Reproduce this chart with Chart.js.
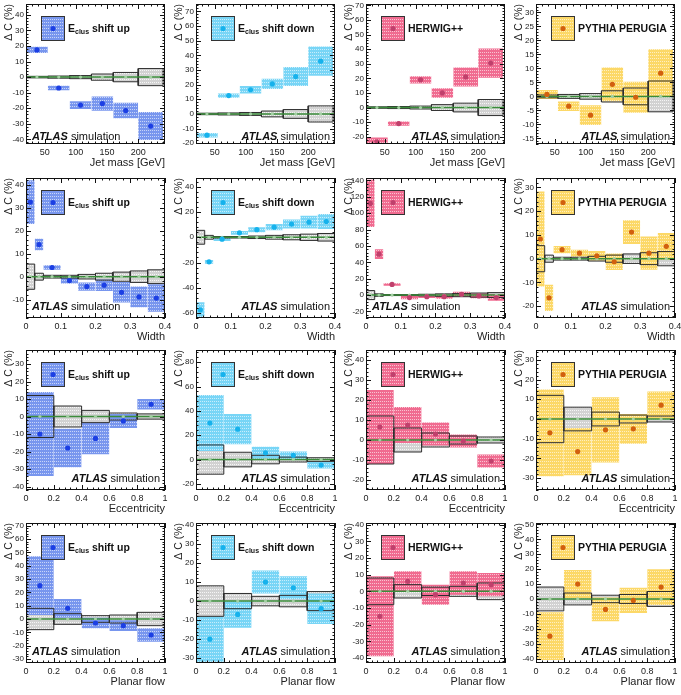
<!DOCTYPE html>
<html><head><meta charset="utf-8">
<script src="https://cdn.jsdelivr.net/npm/chart.js@4.4.1/dist/chart.umd.min.js"></script>
<style>
html,body{margin:0;padding:0;background:#fff;}
#wrap{position:relative;width:681px;height:695px;overflow:hidden;font-family:"Liberation Sans",Arial,Helvetica,sans-serif;}
.panel{position:absolute;width:178px;height:173px;}
.panel canvas{position:absolute;left:0;top:0;}
.leg{position:absolute;font-weight:bold;font-size:10.5px;color:#111;white-space:nowrap;line-height:12px;}
.leg sub{font-size:7px;vertical-align:-2px;line-height:0;}
.atlas{position:absolute;font-size:11px;color:#111;white-space:nowrap;line-height:12px;}
.atlas b{font-style:italic;}
</style></head><body><div id="wrap"></div>
<script>
// ---------- bins ----------
const massEdges  = [20, 55, 90, 125, 160, 200, 240];
const widthEdges = [0, 0.025, 0.05, 0.1, 0.15, 0.2, 0.25, 0.3, 0.35, 0.4];
const eccEdges   = [0, 0.2, 0.4, 0.6, 0.8, 1];
const pfEdges    = [0, 0.2, 0.4, 0.6, 0.8, 1];

// ---------- nominal MC stat uncertainty (grey boxes) ----------
const massStat  = [0.5, 0.7, 1, 2, 3, 5.5];
const widthStat = [5.5, 1.5, 0.6, 0.6, 1, 1.5, 2, 2.5, 3];
const eccStat   = [12, 6, 3.5, 2, 1.5];
const pfStat    = [8, 4, 2.5, 3, 5];

// ---------- x axes ----------
const massXTicks  = [50, 100, 150, 200];
const widthXTicks = [0, 0.1, 0.2, 0.3, 0.4];
const unitXTicks  = [0, 0.2, 0.4, 0.6, 0.8, 1];
const massXRange  = [20, 243];
const widthXRange = [0, 0.4];
const unitXRange  = [0, 1];

// ---------- Jet mass ----------
const massUpVal = [17.5, -7, -18, -17, -21.5, -31.5];
const massUpErr = [2, 1.5, 2.5, 4.6, 5, 9];
const massDownVal = [-14.5, 12.5, 16.5, 20.5, 25.5, 36];
const massDownErr = [1.5, 1.5, 2.5, 3.5, 6.5, 10];
const massHerwigVal = [-23.5, -11, 19, 10, 21, 30.5];
const massHerwigErr = [3, 1.5, 2.5, 3.3, 6.5, 10];
const massPythiaVal = [0.7, -3.5, -6.7, 4.3, -0.3, 8.3];
const massPythiaErr = [1.6, 1.7, 3.5, 6, 5.5, 8.5];

// ---------- Width ----------
const widthUpVal = [32.5, 14, 4, -1.7, -4.3, -3.7, -6.8, -8.8, -9.3];
const widthUpErr = [9.5, 2.5, 1, 1.3, 1.8, 2.5, 4.5, 4.5, 6];
const widthDownVal = [-57.5, -19.5, -1.5, 3.5, 6, 8, 10.5, 12, 12.5];
const widthDownErr = [6, 1.5, 1.5, 1.5, 2, 2.5, 3.5, 5, 6];
const widthHerwigVal = [112, 50, 13, -3, -2, -2, 1, -1, -3];
const widthHerwigErr = [29, 6, 1.5, 2, 1.5, 2.5, 3, 3, 4];
const widthPythiaVal = [8.3, -16.5, 3.8, 2.3, 1.2, -1.3, 11.2, 2.3, 5.2];
const widthPythiaErr = [20, 5.5, 1.5, 1.5, 2, 3.5, 5, 7, 5.6];

// ---------- Eccentricity ----------
const eccUpVal = [-10, -18, -12.5, -2.5, 7];
const eccUpErr = [24, 11, 9, 4, 3];
const eccDownVal = [30, 25, 5.5, 3.5, -4.5];
const eccDownErr = [23, 12.5, 5, 3.2, 2.8];
const eccHerwigVal = [6.5, 7.5, 3, -0.5, -10.5];
const eccHerwigErr = [18.5, 9, 5.8, 3.3, 3.3];
const eccPythiaVal = [-7, -16.5, -5.5, -5, 7];
const eccPythiaErr = [22, 12, 16.5, 7.6, 7];

// ---------- Planar flow ----------
const pfUpVal = [25, 8, -3, -5, -12];
const pfUpErr = [22, 7, 4, 4, 5];
const pfDownVal = [-20, -7, 10, 7, -4];
const pfDownErr = [12, 7, 6, 6, 8];
const pfHerwigVal = [-15, 6, -2, 5, 4];
const pfHerwigErr = [24, 6, 6, 7, 7];
const pfPythiaVal = [-25, 10, -7, -1, 8];
const pfPythiaErr = [16, 9.5, 8, 8.5, 12];

// ---------- y axes (tick labels and ranges) ----------
const yTicks = [
  [-40,-30,-20,-10,0,10,20,30,40], [-20,-10,0,10,20,30,40,50,60,70], [-20,-10,0,10,20,30,40,50,60,70], [-15,-10,-5,0,5,10,15,20,25,30],
  [-10,0,10,20,30,40], [-60,-40,-20,0,20,40], [-20,0,20,40,60,80,100,120,140], [-20,-10,0,10,20,30],
  [-40,-30,-20,-10,0,10,20,30], [-20,0,20,40,60,80], [-20,-10,0,10,20,30,40], [-30,-20,-10,0,10,20,30],
  [-30,-20,-10,0,10,20,30,40,50,60,70], [-30,-20,-10,0,10,20,30,40], [-40,-30,-20,-10,0,10,20,30,40], [-40,-30,-20,-10,0,10,20,30,40,50]
];
const yRanges = [
  [-43,47], [-20.5,75], [-25,71], [-17,33],
  [-18,43], [-64,47], [-28,143], [-25,34],
  [-42,38], [-25,90], [-25,45], [-36,35],
  [-33,72], [-32.5,41], [-43,41], [-43,51]
];
const xTitles = ['Jet mass [GeV]', 'Width', 'Eccentricity', 'Planar flow'];
const yTitle = 'Δ C (%)';
const legendLabels = {up:'E<sub>clus</sub> shift up', down:'E<sub>clus</sub> shift down', herwig:'HERWIG++', pythia:'PYTHIA PERUGIA'};
const atlasLeft = [true,false,false,false, true,false,true,false, false,false,false,false, true,false,false,false];

const FONT = "'Liberation Sans', Arial, Helvetica, sans-serif";
const styles = {
  up:     {base:'#7896ee', point:'#1c3fe4'},
  down:   {base:'#78d5f6', point:'#16b2ec'},
  herwig: {base:'#f06b90', point:'#c0406c'},
  pythia: {base:'#fcd867', point:'#d2600e'}
};

const rows = [
  {edges:massEdges, stat:massStat, xTicks:massXTicks, xRange:massXRange, sets:[['up',massUpVal,massUpErr],['down',massDownVal,massDownErr],['herwig',massHerwigVal,massHerwigErr],['pythia',massPythiaVal,massPythiaErr]]},
  {edges:widthEdges, stat:widthStat, xTicks:widthXTicks, xRange:widthXRange, sets:[['up',widthUpVal,widthUpErr],['down',widthDownVal,widthDownErr],['herwig',widthHerwigVal,widthHerwigErr],['pythia',widthPythiaVal,widthPythiaErr]]},
  {edges:eccEdges, stat:eccStat, xTicks:unitXTicks, xRange:unitXRange, sets:[['up',eccUpVal,eccUpErr],['down',eccDownVal,eccDownErr],['herwig',eccHerwigVal,eccHerwigErr],['pythia',eccPythiaVal,eccPythiaErr]]},
  {edges:pfEdges, stat:pfStat, xTicks:unitXTicks, xRange:unitXRange, sets:[['up',pfUpVal,pfUpErr],['down',pfDownVal,pfDownErr],['herwig',pfHerwigVal,pfHerwigErr],['pythia',pfPythiaVal,pfPythiaErr]]}
];

const rowTops = [0, 174, 346, 519];
const colLefts = [0, 170, 340, 510];
const atlasOff = [8, 12, 12, 12];

function makePattern(ctx, base, dot) {
  const c = document.createElement('canvas'); c.width = 2; c.height = 3;
  const g = c.getContext('2d');
  g.fillStyle = base; g.fillRect(0, 0, 2, 3);
  g.fillStyle = dot; g.fillRect(0, 1, 1, 1);
  return ctx.createPattern(c, 'repeat');
}
function fmt(v) { return String(Math.round(v * 1000) / 1000); }

const wrap = document.getElementById('wrap');

rows.forEach((r, ri) => {
  r.sets.forEach(([kind, val, err], ci) => {
    const k = ri * 4 + ci;
    const st = styles[kind];
    const div = document.createElement('div'); div.className = 'panel';
    div.style.left = colLefts[ci] + 'px'; div.style.top = rowTops[ri] + 'px';
    const cv = document.createElement('canvas'); cv.width = 178; cv.height = 173;
    cv.style.width = '178px'; cv.style.height = '173px';
    div.appendChild(cv); wrap.appendChild(div);
    const ctx = cv.getContext('2d');
    const bandPat = makePattern(ctx, st.base, 'rgba(255,255,255,0.6)');
    const grayPat = makePattern(ctx, '#d2d2d2', 'rgba(255,255,255,0.8)');

    const ds = [];
    const centers = [];
    for (let i = 0; i < val.length; i++) {
      const lo = r.edges[i], hi = r.edges[i + 1], s = r.stat[i];
      centers.push((lo + hi) / 2);
      ds.push({data:[{x:lo,y:s},{x:hi,y:s}], fill:'+1', backgroundColor:grayPat, borderColor:'transparent', borderWidth:0, pointRadius:0, order:50});
      ds.push({data:[{x:lo,y:-s},{x:hi,y:-s}], fill:false, borderColor:'transparent', borderWidth:0, pointRadius:0, order:50});
      ds.push({data:[{x:lo,y:val[i]+err[i]},{x:hi,y:val[i]+err[i]}], fill:'+1', backgroundColor:bandPat, borderColor:'transparent', borderWidth:0, pointRadius:0, order:40});
      ds.push({data:[{x:lo,y:val[i]-err[i]},{x:hi,y:val[i]-err[i]}], fill:false, borderColor:'transparent', borderWidth:0, pointRadius:0, order:40});
      ds.push({data:[{x:lo,y:-s},{x:hi,y:-s},{x:hi,y:s},{x:lo,y:s},{x:lo,y:-s}], fill:false, borderColor:'#2e2e2e', borderWidth:1, pointRadius:0, order:30});
    }
    ds.push({data:[{x:r.xRange[0],y:0},{x:r.xRange[1],y:0}], fill:false, borderColor:'#3a8c3a', borderWidth:1.5, pointRadius:0, order:20});
    ds.push({data:centers.map(c => ({x:c, y:0})), showLine:false, pointRadius:1.6, pointBackgroundColor:'#a3d0a3', pointBorderWidth:0, order:15});
    ds.push({data:centers.map((c, i) => ({x:c, y:val[i]})), showLine:false, pointRadius:2.6, pointBackgroundColor:st.point, pointBorderWidth:0, order:10});

    const yt = yTicks[k], yr = yRanges[k];
    const framePlugin = {
      id: 'frame' + k,
      afterDatasetsDraw(chart) {
        const {ctx: c, chartArea: a, scales: {x, y}} = chart;
        c.save();
        c.strokeStyle = '#111'; c.lineWidth = 1;
        c.strokeRect(a.left + 0.5, a.top + 0.5, a.right - a.left - 1, a.bottom - a.top - 1);
        c.beginPath();
        const ystep = yt[1] - yt[0], ymin = ystep / 5;
        for (let v = Math.ceil(yr[0] / ymin) * ymin; v <= yr[1] + 1e-9; v += ymin) {
          const isMaj = Math.abs(v / ystep - Math.round(v / ystep)) < 1e-6;
          const L = isMaj ? 5 : 2.5;
          const py = Math.round(y.getPixelForValue(v)) + 0.5;
          c.moveTo(a.left, py); c.lineTo(a.left + L, py);
          c.moveTo(a.right, py); c.lineTo(a.right - L, py);
        }
        const xs = r.xTicks, xstep = xs[1] - xs[0], xmin = xstep / 5;
        for (let v = Math.ceil(r.xRange[0] / xmin - 1e-9) * xmin; v <= r.xRange[1] + 1e-9; v += xmin) {
          const isMaj = Math.abs(v / xstep - Math.round(v / xstep)) < 1e-6;
          const L = isMaj ? 5 : 2.5;
          const px = Math.round(x.getPixelForValue(v)) + 0.5;
          c.moveTo(px, a.bottom); c.lineTo(px, a.bottom - L);
          c.moveTo(px, a.top); c.lineTo(px, a.top + L);
        }
        c.stroke();
        c.restore();
      },
      afterDraw(chart) {
        const {ctx: c, chartArea: a} = chart;
        const bx = a.left + 15, by = a.top + 12, bw = 23, bh = 24;
        c.save();
        c.fillStyle = bandPat; c.fillRect(bx, by, bw, bh);
        c.strokeStyle = '#333'; c.lineWidth = 1; c.strokeRect(bx + 0.5, by + 0.5, bw, bh);
        c.fillStyle = st.point; c.beginPath(); c.arc(bx + bw / 2 + 0.5, by + bh / 2 + 0.5, 2.6, 0, Math.PI * 2); c.fill();
        c.restore();
      }
    };

    const chart = new Chart(cv, {
      type: 'line',
      data: {datasets: ds},
      options: {
        responsive: false, animation: false, devicePixelRatio: 1,
        layout: {padding: {left: 0, right: 13, top: 4, bottom: 0}},
        elements: {line: {tension: 0}},
        plugins: {legend: {display: false}, tooltip: {enabled: false}},
        scales: {
          x: {
            type: 'linear', min: r.xRange[0], max: r.xRange[1],
            afterBuildTicks: ax => { ax.ticks = r.xTicks.map(v => ({value: v})); },
            afterFit: ax => { ax.height = 29; ax.paddingLeft = 0; ax.paddingRight = 0; },
            grid: {display: false, drawTicks: false}, border: {display: false},
            ticks: {padding: 3, maxRotation: 0, autoSkip: false, color: '#222', font: {family: FONT, size: 9}, callback: v => fmt(v)},
            title: {display: true, text: xTitles[ri], align: 'end', color: '#222', font: {family: FONT, size: 11}, padding: {top: 0, bottom: 3}}
          },
          y: {
            type: 'linear', min: yr[0], max: yr[1],
            afterBuildTicks: ax => { ax.ticks = yt.map(v => ({value: v})); },
            afterFit: ax => { ax.width = 26; ax.paddingTop = 0; ax.paddingBottom = 0; },
            grid: {display: false, drawTicks: false}, border: {display: false},
            ticks: {padding: 2, autoSkip: false, color: '#222', font: {family: FONT, size: 8}, callback: v => fmt(v)},
            title: {display: true, text: yTitle, align: 'end', color: '#222', font: {family: FONT, size: 10.5}, padding: {top: 3, bottom: 0}}
          }
        }
      },
      plugins: [framePlugin]
    });

    const a = chart.chartArea;
    const leg = document.createElement('div'); leg.className = 'leg';
    leg.innerHTML = legendLabels[kind];
    leg.style.left = (a.left + 42) + 'px'; leg.style.top = (a.top + 18) + 'px';
    div.appendChild(leg);
    const at = document.createElement('div'); at.className = 'atlas';
    at.innerHTML = '<b>ATLAS</b> simulation';
    at.style.top = (a.bottom - atlasOff[ri] - 6) + 'px';
    if (atlasLeft[k]) at.style.left = (a.left + 6) + 'px';
    else at.style.right = (178 - a.right + 5) + 'px';
    div.appendChild(at);
  });
});
</script></body></html>
